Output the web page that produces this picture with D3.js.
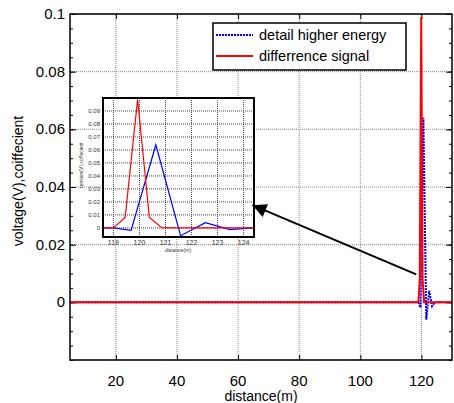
<!DOCTYPE html>
<html>
<head>
<meta charset="utf-8">
<script src="https://cdn.jsdelivr.net/npm/d3@7"></script>
<style>
html, body { margin: 0; padding: 0; background: #fff; overflow: hidden; }
text { font-family: "Liberation Sans", Arial, sans-serif; }
</style>
</head>
<body>
<script>

// values
var xTicks = [20, 40, 60, 80, 100, 120],
    yTicks = [0, 0.02, 0.04, 0.06, 0.08, 0.1];

var diffX = [5, 119, 119.45, 119.93, 120.38, 120.87, 130],
    diffY = [0, 0, 0.008, 0.099, 0.008, 0, 0];

var detailX = [5, 119, 119.68, 120.63, 121.58, 122.53, 123.48, 124.43, 130],
    detailY = [0, 0, -0.0018, 0.064, -0.006, 0.004, -0.0013, 0, 0];

var insetXTicks = [119, 120, 121, 122, 123, 124],
    insetYTicks = [0, 0.01, 0.02, 0.03, 0.04, 0.05, 0.06, 0.07, 0.08, 0.09];

// arrow tail / head in data units
var arrowFrom = [118.3, 0.0097],
    arrowTo = [64.7, 0.0337];

var w = 454, h = 403;
var svg = d3.select('body').append('svg')
  .attr('width', w).attr('height', h);

var x = d3.scaleLinear().domain([5, 130]).range([70, 452]),
    y = d3.scaleLinear().domain([-0.02, 0.1]).range([360, 14]);

var pts = function(xs, ys){ return xs.map(function(v, i){ return [v, ys[i]]; }); };

// grid
svg.selectAll('.gx').data(xTicks).enter().append('line')
  .attr('x1', function(d){ return x(d); }).attr('x2', function(d){ return x(d); })
  .attr('y1', y.range()[0]).attr('y2', y.range()[1])
  .attr('stroke', '#888').attr('stroke-width', 1).attr('stroke-dasharray', '1,1');
svg.selectAll('.gy').data(yTicks.concat([-0.02])).enter().append('line')
  .attr('y1', function(d){ return y(d); }).attr('y2', function(d){ return y(d); })
  .attr('x1', x.range()[0]).attr('x2', x.range()[1])
  .attr('stroke', '#888').attr('stroke-width', 1).attr('stroke-dasharray', '1,1');

// axes (ticks pointing inward, like matlab)
var minor = d3.range(-0.02, 0.1001, 0.005);
svg.append('g').attr('transform', 'translate(' + x.range()[0] + ',0)')
  .call(d3.axisRight(y).tickValues(minor).tickSize(3).tickFormat(''));
svg.append('g').attr('transform', 'translate(' + x.range()[1] + ',0)')
  .call(d3.axisLeft(y).tickValues(minor).tickSize(3).tickFormat(''));
svg.append('g').attr('transform', 'translate(' + x.range()[0] + ',0)')
  .call(d3.axisRight(y).tickValues(yTicks).tickSize(6).tickFormat(''));
svg.append('g').attr('transform', 'translate(' + x.range()[1] + ',0)')
  .call(d3.axisLeft(y).tickValues(yTicks).tickSize(6).tickFormat(''));
svg.append('g').attr('transform', 'translate(0,' + y.range()[0] + ')')
  .call(d3.axisTop(x).tickValues(xTicks).tickSize(5).tickFormat(''));
svg.append('g').attr('transform', 'translate(0,' + y.range()[1] + ')')
  .call(d3.axisBottom(x).tickValues(xTicks).tickSize(5).tickFormat(''));
svg.selectAll('.domain').remove();
svg.selectAll('.tick line').attr('stroke', '#000');

// tick labels
svg.selectAll('.xl').data(xTicks).enter().append('text')
  .attr('x', function(d){ return x(d); }).attr('y', 386)
  .attr('text-anchor', 'middle').attr('font-size', 15)
  .text(function(d){ return d; });
svg.selectAll('.yl').data(yTicks).enter().append('text')
  .attr('x', 65).attr('y', function(d){ return y(d) + 5; })
  .attr('text-anchor', 'end').attr('font-size', 15)
  .text(function(d){ return d; });

svg.append('text').attr('x', 261).attr('y', 401)
  .attr('text-anchor', 'middle').attr('font-size', 14).text('distance(m)');
svg.append('text').attr('transform', 'translate(23,181) rotate(-90)')
  .attr('text-anchor', 'middle').attr('font-size', 14).text('voltage(V),coiffecient');

// main lines
var line = d3.line().x(function(d){ return x(d[0]); }).y(function(d){ return y(d[1]); });
svg.append('path').datum(pts(detailX, detailY)).attr('d', line)
  .attr('fill', 'none').attr('stroke', '#0000ff').attr('stroke-width', 2)
  .attr('stroke-dasharray', '2,1');
svg.append('path').datum(pts(diffX, diffY)).attr('d', line)
  .attr('fill', 'none').attr('stroke', '#ff0000').attr('stroke-width', 2);

// frame
svg.append('rect').attr('x', x.range()[0]).attr('y', y.range()[1])
  .attr('width', x.range()[1] - x.range()[0]).attr('height', y.range()[0] - y.range()[1])
  .attr('fill', 'none').attr('stroke', '#000').attr('stroke-width', 1.5);

// legend
var lg = svg.append('g');
lg.append('rect').attr('x', 213).attr('y', 23).attr('width', 193).attr('height', 47)
  .attr('fill', '#fff').attr('stroke', '#000').attr('stroke-width', 1.5);
lg.append('line').attr('x1', 216).attr('x2', 253).attr('y1', 35).attr('y2', 35)
  .attr('stroke', '#0000ff').attr('stroke-width', 2).attr('stroke-dasharray', '2,1');
lg.append('line').attr('x1', 216).attr('x2', 253).attr('y1', 56).attr('y2', 56)
  .attr('stroke', '#ff0000').attr('stroke-width', 2);
lg.append('text').attr('x', 259).attr('y', 40).attr('font-size', 14.5).text('detail higher energy');
lg.append('text').attr('x', 259).attr('y', 61).attr('font-size', 14.5).text('differrence signal');

// inset
var ix = d3.scaleLinear().domain([118.6, 124.4]).range([103, 254]),
    iy = d3.scaleLinear().domain([-0.007, 0.1]).range([237, 98]);
var ins = svg.append('g');
ins.append('rect').attr('x', 103).attr('y', 98).attr('width', 151).attr('height', 139)
  .attr('fill', '#fff');
ins.selectAll('.igx').data(insetXTicks).enter().append('line')
  .attr('x1', function(d){ return ix(d); }).attr('x2', function(d){ return ix(d); })
  .attr('y1', 98).attr('y2', 237)
  .attr('stroke', '#444').attr('stroke-width', 1).attr('stroke-dasharray', '1,1');
ins.selectAll('.igy').data(insetYTicks).enter().append('line')
  .attr('y1', function(d){ return iy(d); }).attr('y2', function(d){ return iy(d); })
  .attr('x1', 103).attr('x2', 254)
  .attr('stroke', '#444').attr('stroke-width', 1).attr('stroke-dasharray', '1,1');

svg.append('clipPath').attr('id', 'iclip').append('rect')
  .attr('x', 103).attr('y', 98).attr('width', 151).attr('height', 139);
var iline = d3.line().x(function(d){ return ix(d[0]); }).y(function(d){ return iy(d[1]); });
ins.append('path').datum(pts(detailX, detailY)).attr('d', iline)
  .attr('clip-path', 'url(#iclip)')
  .attr('fill', 'none').attr('stroke', '#0000ff').attr('stroke-width', 1.2);
ins.append('path').datum(pts(diffX, diffY)).attr('d', iline)
  .attr('clip-path', 'url(#iclip)')
  .attr('fill', 'none').attr('stroke', '#ff0000').attr('stroke-width', 1.2);
ins.append('rect').attr('x', 103).attr('y', 98).attr('width', 151).attr('height', 139)
  .attr('fill', 'none').attr('stroke', '#000').attr('stroke-width', 2);

ins.selectAll('.ixl').data(insetXTicks).enter().append('text')
  .attr('x', function(d){ return ix(d); }).attr('y', 245)
  .attr('text-anchor', 'middle').attr('font-size', 7).attr('fill', '#333')
  .text(function(d){ return d; });
ins.selectAll('.iyl').data(insetYTicks).enter().append('text')
  .attr('x', 100).attr('y', function(d){ return iy(d) + 2; })
  .attr('text-anchor', 'end').attr('font-size', 6).attr('fill', '#333')
  .text(function(d){ return d; });
ins.append('text').attr('x', 178).attr('y', 252).attr('text-anchor', 'middle')
  .attr('font-size', 5).attr('fill', '#333').text('distance(m)');
ins.append('text').attr('transform', 'translate(83,165) rotate(-90)')
  .attr('text-anchor', 'middle').attr('font-size', 5).attr('fill', '#333')
  .text('tension(V),coffecient');

// arrow
svg.append('defs').append('marker').attr('id', 'ah')
  .attr('viewBox', '0 0 10 10').attr('refX', 10).attr('refY', 5)
  .attr('markerWidth', 18).attr('markerHeight', 14)
  .attr('markerUnits', 'userSpaceOnUse').attr('orient', 'auto')
  .append('path').attr('d', 'M0,0L10,5L0,10Z').attr('fill', '#000');
svg.append('line')
  .attr('x1', x(arrowFrom[0])).attr('y1', y(arrowFrom[1]))
  .attr('x2', x(arrowTo[0])).attr('y2', y(arrowTo[1]))
  .attr('stroke', '#000').attr('stroke-width', 2).attr('marker-end', 'url(#ah)');

</script>
</body>
</html>
